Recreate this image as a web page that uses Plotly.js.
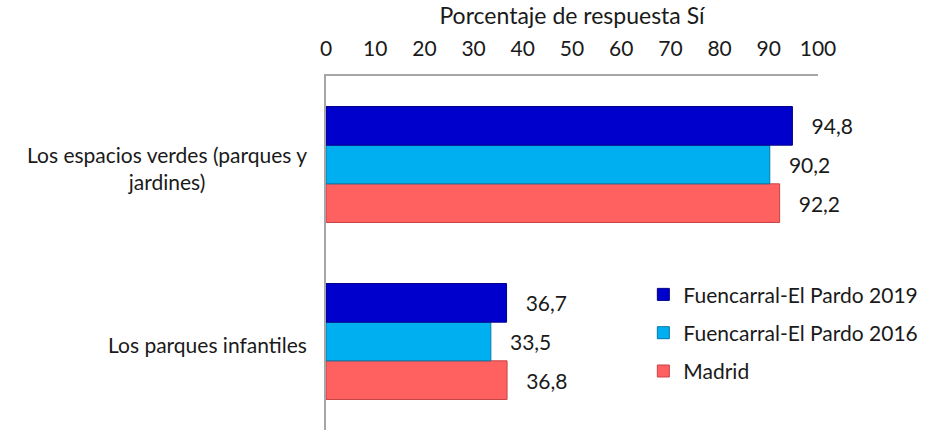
<!DOCTYPE html>
<html>
<head>
<meta charset="utf-8">
<script src="https://cdn.plot.ly/plotly-3.0.1.min.js"></script>
<style>
  html, body { margin: 0; padding: 0; background: #fff; }
  #chart { width: 948px; height: 430px; }
</style>
</head>
<body>
<div id="chart"></div>
<script>
// Categories, bottom to top
const categorias = ['Los parques infantiles', 'Los espacios verdes (parques y<br>jardines)'];

// Series values (same order as categorias)
const madrid = [36.8, 92.2];
const fuencarral2016 = [33.5, 90.2];
const fuencarral2019 = [36.7, 94.8];

const xTicks = [0, 10, 20, 30, 40, 50, 60, 70, 80, 90, 100];

const series = [
    { name: 'Madrid', values: madrid, color: '#ff6161', line: '#c94343', group: 'c', rank: 3 },
    { name: 'Fuencarral-El Pardo 2016', values: fuencarral2016, color: '#00aff0', line: '#0078a8', group: 'b', rank: 2 },
    { name: 'Fuencarral-El Pardo 2019', values: fuencarral2019, color: '#0000cc', line: '#00008a', group: 'a', rank: 1 }
];

const traces = series.map(s => ({
    type: 'bar',
    orientation: 'h',
    name: s.name,
    legendgroup: s.group,
    legendrank: s.rank,
    x: s.values,
    y: categorias,
    marker: { color: s.color, line: { color: s.line, width: 1 } },
    texttemplate: '   %{x:.1f}',
    textposition: 'outside',
    cliponaxis: false,
    textfont: { size: 21, color: '#1a1a1a' },
    hoverinfo: 'x+name'
}));

// category labels as centred multi-line text, right of the text block against the axis
const catLabels = categorias.map(c => ({
    xref: 'paper', yref: 'y',
    x: 0, y: c,
    xanchor: 'right', yanchor: 'middle',
    xshift: -17, yshift: -3,
    text: c,
    align: 'center',
    showarrow: false,
    font: { size: 21, color: '#1a1a1a' }
}));

const layout = {
    width: 948,
    height: 430,
    margin: { l: 326, r: 130, t: 76, b: 0 },
    font: { family: 'Lato, "Open Sans", sans-serif', size: 21, color: '#1a1a1a' },
    separators: ',.',
    barmode: 'group',
    bargap: 0.345,
    bargroupgap: 0,
    showlegend: true,
    legend: {
        x: 0.645, y: 0.44, xanchor: 'left', yanchor: 'top',
        tracegroupgap: 8,
        itemwidth: 30,
        font: { size: 21, color: '#1a1a1a' },
        bgcolor: 'rgba(0,0,0,0)'
    },
    annotations: catLabels,
    xaxis: {
        side: 'top',
        range: [0, 100],
        tickvals: xTicks,
        ticks: '',
        showgrid: false,
        zeroline: false,
        showline: true,
        linecolor: '#a6a6a6',
        linewidth: 2,
        ticklabelstandoff: 10,
        tickfont: { size: 21 },
        title: { text: 'Porcentaje de respuesta Sí', font: { size: 23 }, standoff: 4 }
    },
    yaxis: {
        type: 'category',
        categoryorder: 'array',
        categoryarray: categorias,
        range: [-0.5, 1.5],
        ticks: '',
        showticklabels: false,
        showgrid: false,
        zeroline: false,
        showline: true,
        linecolor: '#a6a6a6',
        linewidth: 2
    },
    plot_bgcolor: '#fff',
    paper_bgcolor: '#fff'
};

Plotly.newPlot('chart', traces, layout, { displayModeBar: false, staticPlot: true });
</script>
</body>
</html>
